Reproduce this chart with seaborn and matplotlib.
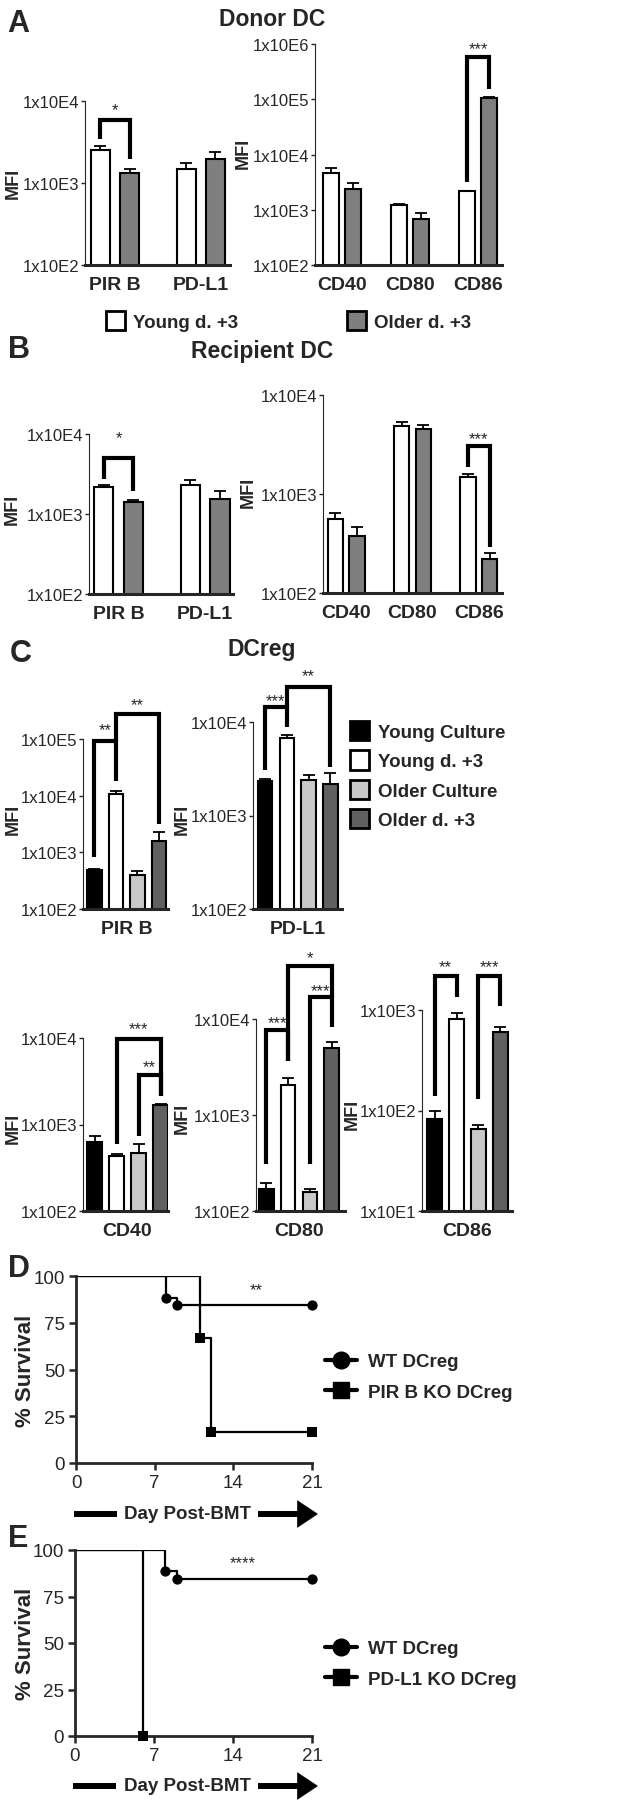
import matplotlib
matplotlib.use("Agg")
import matplotlib.pyplot as plt
from matplotlib.lines import Line2D
from matplotlib.patches import Patch
from matplotlib.ticker import NullLocator
import numpy as np
import pandas as pd
import seaborn as sns

# ---------------- data ----------------
young_d3 = "Young d. +3"
older_d3 = "Older d. +3"
ab_groups = [young_d3, older_d3]
inhib_markers = ["PIR B", "PD-L1"]
costim_markers = ["CD40", "CD80", "CD86"]

# A: donor DC (mean MFI, SEM)
a_inhib_young = [2540, 1470]
a_inhib_young_sem = [300, 288]
a_inhib_older = [1338, 1950]
a_inhib_older_sem = [146, 425]
a_costim_young = [4640, 1200, 2155]
a_costim_young_sem = [1080, 50, 45]
a_costim_older = [2375, 676, 107000]
a_costim_older_sem = [635, 206, 2000]

# B: recipient DC
b_inhib_young = [2197, 2282]
b_inhib_young_sem = [108, 378]
b_inhib_older = [1413, 1555]
b_inhib_older_sem = [97, 365]
b_costim_young = [553, 4909, 1490]
b_costim_young_sem = [88, 431, 120]
b_costim_older = [376, 4575, 222]
b_costim_older_sem = [91, 405, 29]

# C: DCreg, four groups per marker
c_groups = ["Young Culture", "Young d. +3", "Older Culture", "Older d. +3"]
c_pirb = [494, 10700, 398, 1607]
c_pirb_sem = [10, 1400, 71, 708]
c_pdl1 = [2333, 6740, 2371, 2185]
c_pdl1_sem = [137, 575, 312, 658]
c_cd40 = [621, 427, 467, 1683]
c_cd40_sem = [121, 24, 122, 20]
c_cd80 = [171, 2059, 156, 5035]
c_cd80_sem = [24, 376, 15, 775]
c_cd86 = [82.4, 807, 65.6, 605]
c_cd86_sem = [15.6, 120, 6.8, 79]

# D / E: survival
wt_days = [0, 8, 9, 21]
wt_surv = [100, 88.5, 84.5, 84.5]
pirb_ko_days = [0, 11, 12, 21]
pirb_ko_surv = [100, 66.7, 16.7, 16.7]
pdl1_ko_days = [0, 6]
pdl1_ko_surv = [100, 0]

# significance brackets: (bar i, bar j, top, leg i bottom, leg j bottom, label, label y)
a_inhib_sig = [(0, 1, 5800, 3460, 1966, "*", 9000)]
a_costim_sig = [(4, 5, 589000, 3140, 156000, "***", 1.03e6)]
b_inhib_sig = [(0, 1, 5012, 2740, 1960, "*", 10500)]
b_costim_sig = [(4, 5, 3036, 1866, 291, "***", 4045)]
c_pirb_sig = [(0, 1, 93000, 816, 18400, "**", 176000),
              (1, 3, 277000, 93000, 3160, "**", 488000)]
c_pdl1_sig = [(0, 1, 14500, 3035, 8840, "***", 19000),
              (1, 3, 23700, 14500, 3296, "**", 35800)]
c_cd40_sig = [(1, 3, 9800, 594, 2160, "***", 14700),
              (2, 3, 3690, 742, 2160, "**", 5360)]
c_cd80_sig = [(0, 1, 7690, 311, 3690, "***", 10400),
              (2, 3, 16900, 311, 8190, "***", 22200),
              (1, 3, 35900, 3690, 16900, "*", 49400)]
c_cd86_sig = [(0, 1, 2158, 140, 1336, "**", 3060),
              (2, 3, 2158, 130, 1096, "***", 3060)]

# ---------------- style ----------------
sns.set_style("ticks")
plt.rcParams["font.family"] = ["Liberation Sans", "DejaVu Sans"]

W, H = 642, 1808
fig = plt.figure(figsize=(W / 100, H / 100), dpi=100)

ab_palette = {young_d3: "white", older_d3: "#7f7f7f"}
c_palette = dict(zip(c_groups, ["black", "white", "#c8c8c8", "#606060"]))
LAB = {"weight": "bold", "size": 13.5}


def rect(x0, y0, x1, y1):
    return [x0 / W, 1 - y1 / H, (x1 - x0) / W, (y1 - y0) / H]


def ftext(x, y, s, **kw):
    fig.text(x / W, 1 - y / H, s, **kw)


def bar_panel(box, markers, groups, means, sems, palette, ylim, xlim, width, gap, sig):
    ax = fig.add_axes(rect(*box))
    rows = []
    for gi, g in enumerate(groups):
        for mi, m in enumerate(markers):
            rows.append({"marker": m, "group": g, "mfi": means[gi][mi],
                         "sem": sems[gi][mi], "order": mi * len(groups) + gi})
    df = pd.DataFrame(rows)
    sns.barplot(data=df, x="marker", y="mfi", hue="group", order=markers,
                hue_order=groups, palette=palette, width=width, gap=gap,
                errorbar=None, edgecolor="black", linewidth=1.5, legend=False,
                ax=ax)
    ax.set_yscale("log")
    bars = sorted(ax.patches, key=lambda p: p.get_x())
    xs = [p.get_x() + p.get_width() / 2 for p in bars]
    d = df.sort_values("order")
    ax.errorbar(xs, d["mfi"], yerr=[np.zeros(len(d)), d["sem"]], fmt="none",
                ecolor="black", elinewidth=1.3, capsize=4, capthick=1.3, zorder=3)
    for i, j, top, bi, bj, label, ly in sig:
        ax.plot([xs[i], xs[i], xs[j], xs[j]], [bi, top, top, bj], color="black",
                lw=3, clip_on=False, solid_joinstyle="miter", solid_capstyle="butt")
        ax.annotate(label, ((xs[i] + xs[j]) / 2, ly), xytext=(0, -0.57 * 12),
                    textcoords="offset points", ha="center", va="baseline",
                    fontsize=12, annotation_clip=False)
    ax.set_ylim(*ylim)
    ax.set_xlim(*xlim)
    lo, hi = int(round(np.log10(ylim[0]))), int(round(np.log10(ylim[1])))
    ticks = [10.0 ** k for k in range(lo, hi + 1)]
    ax.set_yticks(ticks)
    ax.set_yticklabels([f"1x10E{k}" for k in range(lo, hi + 1)], fontsize=12)
    ax.yaxis.set_minor_locator(NullLocator())
    ax.tick_params(axis="y", length=3, width=1, pad=1)
    ax.tick_params(axis="x", length=0, pad=8)
    for t in ax.get_xticklabels():
        t.set_fontweight("bold")
        t.set_fontsize(14)
    sns.despine(ax=ax)
    ax.spines["left"].set_linewidth(0.8)
    ax.spines["bottom"].set_linewidth(2.2)
    ax.set_xlabel("")
    ax.set_ylabel("")
    return ax


def mfi_label(x, y):
    ftext(x, y, "MFI", rotation=90, ha="center", va="center", fontsize=13,
          fontweight="bold")


# ---------------- A ----------------
ftext(7, 32, "A", fontsize=22, fontweight="bold", va="baseline")
ftext(272, 26, "Donor DC", fontsize=16.5, fontweight="bold", ha="center", va="baseline")
bar_panel((85, 102, 230, 266), inhib_markers, ab_groups,
          [a_inhib_young, a_inhib_older], [a_inhib_young_sem, a_inhib_older_sem],
          ab_palette, (1e2, 1e4), (-0.35, 1.34), 0.68, 0.35, a_inhib_sig)
bar_panel((315, 45, 502, 266), costim_markers, ab_groups,
          [a_costim_young, a_costim_older], [a_costim_young_sem, a_costim_older_sem],
          ab_palette, (1e2, 1e6), (-0.4, 2.35), 0.66, 0.28, a_costim_sig)
mfi_label(13, 183)
mfi_label(243, 153)

fig.legend(handles=[Patch(facecolor=ab_palette[g], edgecolor="black", lw=2, label=g)
                    for g in ab_groups],
           ncol=2, frameon=False, loc="center left",
           bbox_to_anchor=(106 / W, 1 - 322 / H), handlelength=1.0,
           handleheight=1.2, handletextpad=0.45, columnspacing=5.8,
           borderpad=0, borderaxespad=0, prop=LAB)

# ---------------- B ----------------
ftext(8, 358, "B", fontsize=22, fontweight="bold", va="baseline")
ftext(262, 358, "Recipient DC", fontsize=16.5, fontweight="bold", ha="center", va="baseline")
bar_panel((89, 435, 233, 595), inhib_markers, ab_groups,
          [b_inhib_young, b_inhib_older], [b_inhib_young_sem, b_inhib_older_sem],
          ab_palette, (1e2, 1e4), (-0.34, 1.32), 0.68, 0.35, b_inhib_sig)
bar_panel((323, 396, 502, 594), costim_markers, ab_groups,
          [b_costim_young, b_costim_older], [b_costim_young_sem, b_costim_older_sem],
          ab_palette, (1e2, 1e4), (-0.35, 2.35), 0.66, 0.3, b_costim_sig)
mfi_label(12, 509)
mfi_label(248, 492)

# ---------------- C ----------------
ftext(10, 662, "C", fontsize=22, fontweight="bold", va="baseline")
ftext(262, 656, "DCreg", fontsize=16.5, fontweight="bold", ha="center", va="baseline")


def c_panel(box, marker, vals, sems, ylim, xlim, sig):
    return bar_panel(box, [marker], c_groups, [[v] for v in vals], [[s] for s in sems],
                     c_palette, ylim, xlim, 0.8, 0.33, sig)


c_panel((83, 740, 168, 910), "PIR B", c_pirb, c_pirb_sem, (1e2, 1e5), (-0.407, 0.384), c_pirb_sig)
c_panel((253, 723, 342, 910), "PD-L1", c_pdl1, c_pdl1_sem, (1e2, 1e4), (-0.41, 0.406), c_pdl1_sig)
c_panel((83, 1039, 168, 1212), "CD40", c_cd40, c_cd40_sem, (1e2, 1e4), (-0.405, 0.368), c_cd40_sig)
c_panel((256, 1020, 345, 1212), "CD80", c_cd80, c_cd80_sem, (1e2, 1e4), (-0.396, 0.424), c_cd80_sig)
c_panel((422, 1011, 512, 1212), "CD86", c_cd86, c_cd86_sem, (1e1, 1e3), (-0.414, 0.405), c_cd86_sig)
mfi_label(13, 819)
mfi_label(182, 819)
mfi_label(13, 1128)
mfi_label(182, 1118)
mfi_label(352, 1114)

fig.legend(handles=[Patch(facecolor=c_palette[g], edgecolor="black", lw=2, label=g)
                    for g in c_groups],
           frameon=False, loc="upper left", bbox_to_anchor=(350 / W, 1 - 722 / H),
           handlelength=1.0, handleheight=1.2, handletextpad=0.5,
           labelspacing=0.5, borderpad=0, borderaxespad=0, prop=LAB)


# ---------------- D / E ----------------
def km_panel(box, ko_days, ko_surv, ko_label, star, star_xy, letter, letter_y,
             xlab_y, leg_y):
    ax = fig.add_axes(rect(*box))
    for days, surv, mk in [(wt_days, wt_surv, "o"), (ko_days, ko_surv, "s")]:
        sns.lineplot(x=days, y=surv, drawstyle="steps-post", color="black", lw=1.6,
                     estimator=None, sort=False, ax=ax)
        sns.scatterplot(x=days[1:], y=surv[1:], marker=mk, s=55, color="black",
                        edgecolor="black", linewidth=0, ax=ax, clip_on=False, zorder=4)
    ax.set_xlim(0, 21)
    ax.set_ylim(0, 100)
    ax.set_xticks([0, 7, 14, 21])
    ax.set_yticks([0, 25, 50, 75, 100])
    for t in ax.get_xticklabels() + ax.get_yticklabels():
        t.set_fontsize(13.5)
    ax.tick_params(length=5, width=1.8, pad=3)
    sns.despine(ax=ax)
    for s in ("left", "bottom"):
        ax.spines[s].set_linewidth(2)
    ax.set_xlabel("")
    ax.set_ylabel("")
    ax.text(star_xy[0], star_xy[1], star, ha="center", va="center", fontsize=12)

    x0 = box[0]
    ftext(26, (box[1] + box[3]) / 2, "% Survival", rotation=90, ha="center",
          va="center", fontsize=16, fontweight="bold")
    ftext(8, letter_y, letter, fontsize=22, fontweight="bold", va="baseline")
    ftext(188, xlab_y, "Day Post-BMT", ha="center", va="center", fontsize=13.5,
          fontweight="bold")
    fig.add_artist(Line2D([(x0 - 2) / W, (x0 + 41) / W], [1 - xlab_y / H] * 2,
                          transform=fig.transFigure, color="black", lw=4.3,
                          solid_capstyle="butt"))
    ax.annotate("", xy=(318 / W, 1 - xlab_y / H), xytext=(258 / W, 1 - xlab_y / H),
                xycoords="figure fraction",
                arrowprops=dict(arrowstyle="simple,head_length=1.5,head_width=2.0,tail_width=0.43",
                                fc="black", ec="none", mutation_scale=10,
                                shrinkA=0, shrinkB=0))
    handles = [Line2D([0], [0], color="black", lw=3, marker="o", ms=12, label="WT DCreg"),
               Line2D([0], [0], color="black", lw=3, marker="s", ms=12, label=ko_label)]
    fig.legend(handles=handles, frameon=False, loc="center left",
               bbox_to_anchor=(325 / W, 1 - leg_y / H), handlelength=1.7,
               handletextpad=0.6, labelspacing=0.7, borderpad=0, borderaxespad=0,
               prop=LAB)
    return ax


km_panel((76, 1277, 312, 1464), pirb_ko_days, pirb_ko_surv, "PIR B KO DCreg",
         "**", (16.0, 92.5), "D", 1277, 1515, 1378)
km_panel((75, 1551, 312, 1737), pdl1_ko_days, pdl1_ko_surv, "PD-L1 KO DCreg",
         "****", (14.9, 93), "E", 1547, 1787, 1665)

fig.savefig("out.png", dpi=100)
